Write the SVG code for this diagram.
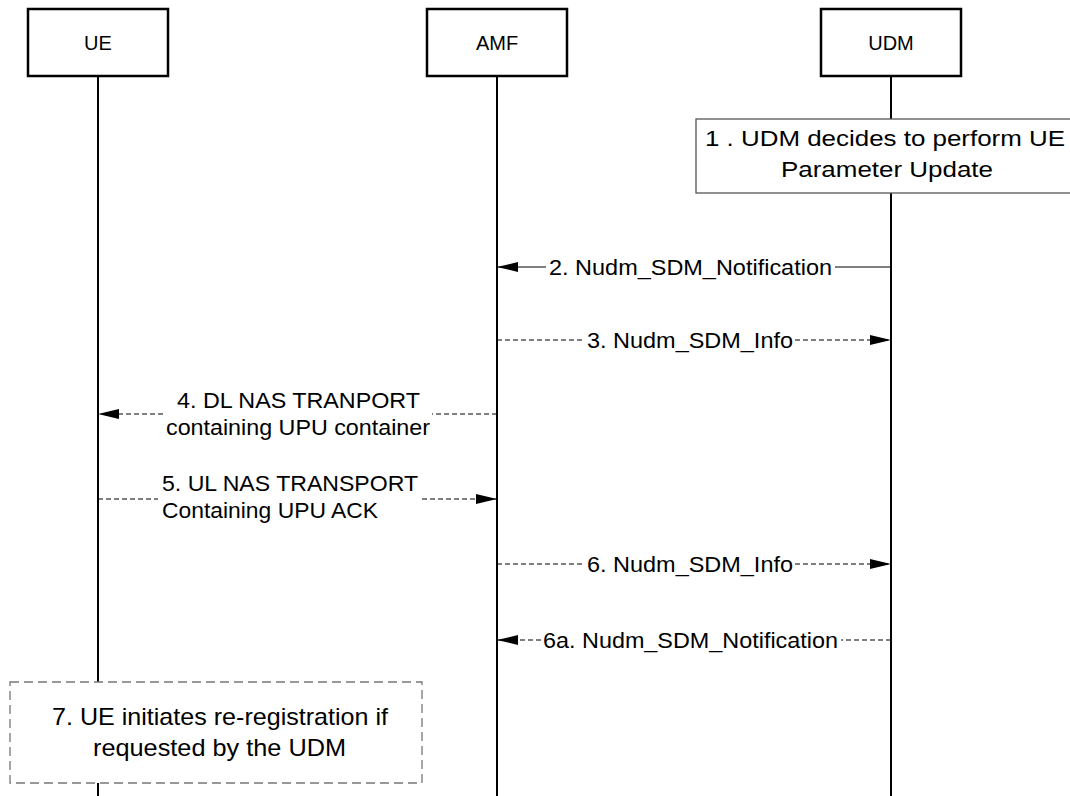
<svg xmlns="http://www.w3.org/2000/svg" width="1070" height="796" viewBox="0 0 1070 796">
  <style>
    .hdr { fill: #fff; stroke: #000; stroke-width: 2.5; }
    .hdrtxt { font-family: "Liberation Sans", Arial, sans-serif; font-size: 20px; fill: #000; text-anchor: middle; }
    .life { stroke: #000; stroke-width: 2; fill: none; }
    .msg { stroke: #000; stroke-width: 1; fill: none; }
    .dash { stroke-dasharray: 5 3; }
    .lbl { font-family: "Liberation Sans", Arial, sans-serif; font-size: 22px; fill: #000; }
    .step { font-family: "Liberation Sans", Arial, sans-serif; fill: #000; }
  </style>
  <defs>
    <marker id="ah" viewBox="0 0 21 10" refX="21" refY="5" markerWidth="21" markerHeight="10" markerUnits="userSpaceOnUse" orient="auto">
      <path d="M0,0 L21,5 L0,10 z" fill="#000"/>
    </marker>
  </defs>

  <g id="lifelines">
    <line class="life" x1="98" y1="76" x2="98" y2="796"/>
    <line class="life" x1="497" y1="76" x2="497" y2="796"/>
    <line class="life" x1="891" y1="76" x2="891" y2="796"/>
  </g>

  <g id="ue">
    <rect class="hdr" x="28" y="9" width="140" height="67"/>
    <text class="hdrtxt" x="98" y="50">UE</text>
  </g>
  <g id="amf">
    <rect class="hdr" x="427" y="9" width="140" height="67"/>
    <text class="hdrtxt" x="497" y="50">AMF</text>
  </g>
  <g id="udm">
    <rect class="hdr" x="821" y="9" width="140" height="67"/>
    <text class="hdrtxt" x="891" y="50">UDM</text>
  </g>

  <g id="step1">
    <rect x="696" y="119" width="380" height="74" fill="#fff" stroke="#555" stroke-width="1.3"/>
    <text class="step" font-size="22" x="705" y="146" textLength="360" lengthAdjust="spacingAndGlyphs">1 . UDM decides to perform UE</text>
    <text class="step" font-size="22" x="781" y="177" textLength="212" lengthAdjust="spacingAndGlyphs">Parameter Update</text>
  </g>

  <g id="step7">
    <rect x="10" y="682" width="412" height="101" fill="#fff" stroke="#777" stroke-width="1.3" stroke-dasharray="9 5"/>
    <text class="step" font-size="24" x="52" y="725" textLength="336" lengthAdjust="spacingAndGlyphs">7. UE initiates re-registration if</text>
    <text class="step" font-size="24" x="93" y="756" textLength="253" lengthAdjust="spacingAndGlyphs">requested by the UDM</text>
  </g>

  <g id="connectors">
    <!-- 2 -->
    <line class="msg" x1="891" y1="267" x2="835" y2="267"/>
    <line class="msg" x1="546" y1="267" x2="497" y2="267" marker-end="url(#ah)"/>
    <text class="lbl" x="549" y="275" textLength="283" lengthAdjust="spacingAndGlyphs">2. Nudm_SDM_Notification</text>
    <!-- 3 -->
    <line class="msg dash" x1="497" y1="340" x2="585" y2="340"/>
    <line class="msg dash" x1="795" y1="340" x2="891" y2="340" marker-end="url(#ah)"/>
    <text class="lbl" x="587" y="348" textLength="206" lengthAdjust="spacingAndGlyphs">3. Nudm_SDM_Info</text>
    <!-- 4 -->
    <line class="msg dash" x1="497" y1="414" x2="432" y2="414"/>
    <line class="msg dash" x1="163" y1="414" x2="98" y2="414" marker-end="url(#ah)"/>
    <text class="lbl" x="177" y="408" textLength="243" lengthAdjust="spacingAndGlyphs">4. DL NAS TRANPORT</text>
    <text class="lbl" x="166" y="435" textLength="264" lengthAdjust="spacingAndGlyphs">containing UPU container</text>
    <!-- 5 -->
    <line class="msg dash" x1="98" y1="499" x2="158" y2="499"/>
    <line class="msg dash" x1="422" y1="499" x2="497" y2="499" marker-end="url(#ah)"/>
    <text class="lbl" x="162" y="491" textLength="256" lengthAdjust="spacingAndGlyphs">5. UL NAS TRANSPORT</text>
    <text class="lbl" x="162" y="518" textLength="216" lengthAdjust="spacingAndGlyphs">Containing UPU ACK</text>
    <!-- 6 -->
    <line class="msg dash" x1="497" y1="564" x2="585" y2="564"/>
    <line class="msg dash" x1="795" y1="564" x2="891" y2="564" marker-end="url(#ah)"/>
    <text class="lbl" x="587" y="572" textLength="206" lengthAdjust="spacingAndGlyphs">6. Nudm_SDM_Info</text>
    <!-- 6a -->
    <line class="msg dash" x1="891" y1="640" x2="841" y2="640"/>
    <line class="msg dash" x1="541" y1="640" x2="497" y2="640" marker-end="url(#ah)"/>
    <text class="lbl" x="543" y="648" textLength="295" lengthAdjust="spacingAndGlyphs">6a. Nudm_SDM_Notification</text>
  </g>
</svg>
